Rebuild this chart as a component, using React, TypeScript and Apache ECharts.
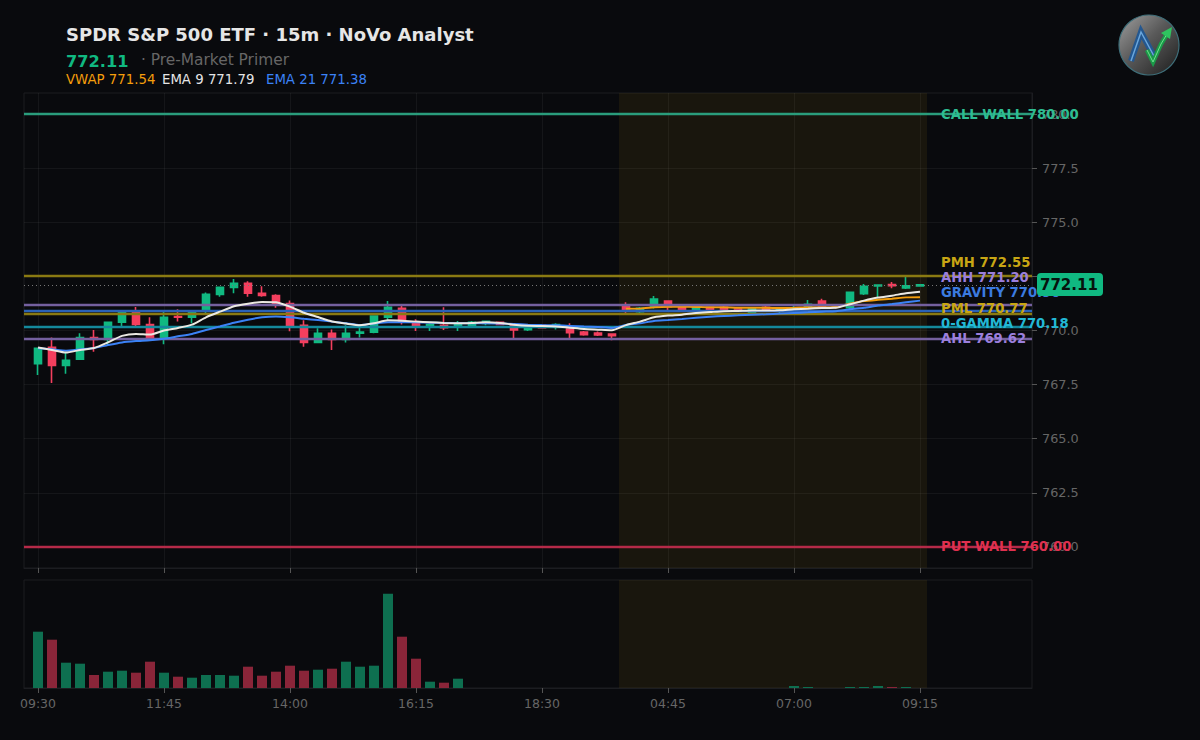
import React, { useEffect, useRef } from "react";
import * as echarts from "echarts";

// first and last slots are empty padding on the time axis
const times = [
  "", "09:30", "09:45", "10:00", "10:15", "10:30", "10:45", "11:00", "11:15", "11:30",
  "11:45", "12:00", "12:15", "12:30", "12:45", "13:00", "13:15", "13:30", "13:45",
  "14:00", "14:15", "14:30", "14:45", "15:00", "15:15", "15:30", "15:45", "16:00",
  "16:15", "16:30", "16:45", "17:00", "17:15", "17:30", "17:45", "18:00", "18:15",
  "18:30", "18:45", "19:00", "19:15", "19:30", "19:45", "04:00", "04:15", "04:30",
  "04:45", "05:00", "05:15", "05:30", "05:45", "06:00", "06:15", "06:30", "06:45",
  "07:00", "07:15", "07:30", "07:45", "08:00", "08:15", "08:30", "08:45", "09:00",
  "09:15", "", "", "", "", "", "", "", "",
];

// open, close, low, high
const candles = [
  [768.47, 769.18, 767.94, 769.18], [769.22, 768.38, 767.58, 769.68], [768.38, 768.62, 768.0, 768.98],
  [768.67, 769.68, 768.67, 769.87], [769.68, 769.59, 769.02, 770.02], [769.59, 770.38, 769.33, 770.42],
  [770.38, 770.84, 770.19, 770.89], [770.84, 770.28, 770.19, 771.09], [770.28, 769.59, 769.59, 770.61],
  [769.64, 770.61, 769.36, 770.89], [770.65, 770.61, 770.42, 770.98], [770.61, 770.89, 770.33, 770.89],
  [770.89, 771.67, 770.79, 771.76], [771.67, 771.99, 771.56, 771.99], [771.99, 772.18, 771.72, 772.38],
  [772.18, 771.72, 771.56, 772.27], [771.72, 771.62, 771.56, 772.04], [771.62, 771.25, 771.05, 771.67],
  [771.25, 770.24, 769.96, 771.39], [770.24, 769.45, 769.25, 770.47], [769.45, 769.87, 769.41, 770.1],
  [769.87, 769.59, 769.1, 770.05], [769.59, 769.87, 769.45, 770.24], [769.87, 769.93, 769.68, 770.15],
  [769.92, 770.67, 769.87, 770.67], [770.61, 771.07, 770.47, 771.36], [771.02, 770.42, 770.28, 771.21],
  [770.33, 770.15, 769.98, 770.52], [770.24, 770.28, 769.98, 770.33], [770.24, 770.13, 770.02, 771.07],
  [770.25, 770.3, 769.98, 770.44], [770.22, 770.38, 770.18, 770.44], [770.33, 770.42, 770.24, 770.45],
  [770.38, 770.28, 770.25, 770.38], [770.24, 770.02, 769.59, 770.33], [770.04, 770.21, 769.98, 770.28],
  [770.24, 770.13, 770.1, 770.28], [770.18, 770.28, 770.05, 770.33], [770.15, 769.9, 769.59, 770.33],
  [769.93, 769.81, 769.76, 769.98], [769.88, 769.79, 769.75, 769.95], [769.84, 769.76, 769.55, 769.87],
  [771.18, 770.95, 770.72, 771.3], [770.87, 771.02, 770.75, 771.09], [771.1, 771.45, 771.02, 771.59],
  [771.36, 771.1, 770.9, 771.36], [771.09, 770.95, 770.93, 771.09], [770.93, 771.05, 770.75, 771.05],
  [771.07, 770.9, 770.85, 771.1], [771.07, 770.96, 770.93, 771.18], [770.99, 770.93, 770.87, 771.02],
  [770.82, 771.05, 770.78, 771.05], [771.07, 770.93, 770.9, 771.13], [770.9, 770.98, 770.79, 770.98],
  [770.99, 771.05, 770.79, 771.19], [771.05, 771.21, 770.99, 771.41], [771.36, 771.1, 770.99, 771.47],
  [771.15, 771.09, 771.02, 771.18], [771.05, 771.76, 770.96, 771.76], [771.7, 772.04, 771.64, 772.15],
  [772.06, 772.1, 771.49, 772.1], [772.12, 772.07, 771.95, 772.24], [771.96, 772.06, 771.92, 772.56],
  [772.06, 772.11, 772.06, 772.15],
];

const ema9 = [
  769.21, 769.1, 768.98, 769.1, 769.19, 769.45, 769.75, 769.84, 769.81, 770.0, 770.12, 770.27, 770.61,
  770.87, 771.12, 771.24, 771.32, 771.3, 771.1, 770.82, 770.62, 770.42, 770.32, 770.24, 770.33, 770.47,
  770.45, 770.41, 770.38, 770.35, 770.33, 770.35, 770.38, 770.35, 770.27, 770.22, 770.21, 770.19, 770.13,
  770.07, 770.04, 770.01, 770.25, 770.41, 770.61, 770.69, 770.73, 770.81, 770.85, 770.89, 770.9, 770.92,
  770.92, 770.93, 770.98, 771.01, 771.04, 771.05, 771.21, 771.38, 771.52, 771.61, 771.72, 771.79,
];

const ema21 = [
  769.18, 769.13, 769.07, 769.13, 769.19, 769.33, 769.45, 769.51, 769.55, 769.62, 769.73, 769.84, 770.02,
  770.19, 770.36, 770.5, 770.61, 770.65, 770.61, 770.54, 770.48, 770.41, 770.33, 770.25, 770.32, 770.38,
  770.38, 770.38, 770.36, 770.35, 770.33, 770.33, 770.33, 770.32, 770.3, 770.27, 770.25, 770.24, 770.21,
  770.18, 770.16, 770.12, 770.25, 770.33, 770.44, 770.48, 770.53, 770.59, 770.64, 770.67, 770.7, 770.73,
  770.75, 770.78, 770.81, 770.84, 770.87, 770.89, 770.98, 771.05, 771.15, 771.22, 771.3, 771.38,
];

// pre-market session only, starts at 04:00
const vwapStart = 42;
const vwap = [
  771.01, 771.01, 771.07, 771.1, 771.1, 771.09, 771.07, 771.07, 771.05, 771.05, 771.05, 771.04,
  771.05, 771.07, 771.07, 771.1, 771.24, 771.36, 771.42, 771.47, 771.53, 771.54,
];

const volumes = [
  563, 483, 253, 243, 130, 163, 173, 153, 263, 153, 113, 103, 130, 130, 123, 213,
  123, 163, 223, 173, 183, 193, 263, 213, 223, 943, 513, 293, 63, 53, 93,
  0, 0, 0, 0, 0, 0, 0, 0, 0, 0, 0,
  0, 0, 0, 0, 0, 0, 0, 0, 0, 0, 0, 0, 20, 10, 0, 0, 10, 10, 20, 10, 10, 0,
];

const levelNames = ["CALL WALL", "PMH", "AHH", "GRAVITY", "PML", "0-GAMMA", "AHL", "PUT WALL"];
const levelValues = [780.0, 772.55, 771.2, 770.9, 770.77, 770.18, 769.62, 760.0];
const levelLabels = ["780.00", "772.55", "771.20", "770.90", "770.77", "770.18", "769.62", "760.00"];
const levelLineColors = ["#2a9d7c", "#8a7a12", "#74609f", "#2a62b8", "#8a7a12", "#14899c", "#74609f", "#b52a48"];
const levelTextColors = ["#2ebd92", "#c8a614", "#9b7fdc", "#3b7be0", "#c8a614", "#22b8d6", "#9b7fdc", "#e0304f"];
// labels are pushed apart so they stay readable
const levelLabelY = [114, 262, 277, 292, 308, 323, 338, 546];

const priceTicks = [760, 762.5, 765, 767.5, 770, 772.5, 775, 777.5, 780];
// the 772.5 label sits under the last-price badge
const priceLabels = [760, 762.5, 765, 767.5, 770, 775, 777.5, 780];
const lastPrice = 772.11;
const sessionSpan = [[43, 64, 0]];

const UP = "#10b981";
const DOWN = "#f43f5e";
const FONT = "DejaVu Sans";
const BG = "#090a0d";

const showTick = (index: number) => index > 0 && index < 65 && (index - 1) % 9 === 0;

const renderSession = (params: any, api: any) => {
  const band = api.size([1, 0])[0];
  const x0 = api.coord([api.value(0), 0])[0] - band / 2;
  const x1 = api.coord([api.value(1), 0])[0] + band / 2;
  return {
    type: "rect",
    shape: { x: x0, y: params.coordSys.y, width: x1 - x0, height: params.coordSys.height },
    style: { fill: "rgba(234,179,8,0.07)" },
  };
};

const text = (x: number, y: number, value: string, fill: string, fontSize: number, fontWeight = "normal", z = 100) => ({
  type: "text",
  x,
  y,
  z,
  style: { text: value, fill, fontSize, fontWeight, fontFamily: FONT, textVerticalAlign: "middle" },
});

export default function App() {
  const chartRef = useRef<HTMLDivElement>(null);

  useEffect(() => {
    if (!chartRef.current) return;
    const chart = echarts.init(chartRef.current, undefined, { renderer: "svg" });

    const xBase = {
      type: "category",
      data: times,
      boundaryGap: false,
      axisLine: { lineStyle: { color: "#1c1d21" } },
      axisTick: { show: true, length: 5, interval: showTick, lineStyle: { color: "#555" } },
    };

    const levelLines = levelValues.map((v, i) => ({
      yAxis: v,
      lineStyle: { color: levelLineColors[i], width: 2.4, type: "solid", opacity: 1 },
    }));

    const option: any = {
      animation: false,
      backgroundColor: BG,
      grid: [
        { left: 24, top: 93, width: 1008, height: 475, show: true, borderColor: "#1c1d21", backgroundColor: "transparent" },
        { left: 24, top: 580, width: 1008, height: 108, show: true, borderColor: "#1c1d21", backgroundColor: "transparent" },
      ],
      xAxis: [
        {
          ...xBase,
          gridIndex: 0,
          axisLabel: { show: false },
          splitLine: { show: true, interval: showTick, lineStyle: { color: "rgba(255,255,255,0.05)" } },
        },
        {
          ...xBase,
          gridIndex: 1,
          axisLabel: { show: true, interval: showTick, color: "#666", fontSize: 12.5, fontFamily: FONT, margin: 9 },
          splitLine: { show: false },
        },
      ],
      yAxis: [
        {
          type: "value",
          gridIndex: 0,
          position: "right",
          min: 759.03,
          max: 780.97,
          axisLine: { show: true, lineStyle: { color: "#1c1d21" } },
          axisTick: { show: true, length: 5, customValues: priceTicks, lineStyle: { color: "#555" } },
          axisLabel: {
            color: "#666",
            fontSize: 12.8,
            fontFamily: FONT,
            margin: 10,
            customValues: priceLabels,
            formatter: (v: number) => v.toFixed(1),
          },
          splitLine: { show: true, lineStyle: { color: "rgba(255,255,255,0.05)" } },
        },
        { type: "value", gridIndex: 1, min: 0, max: 1080, show: false, splitLine: { show: false } },
      ],
      series: [
        {
          type: "custom",
          xAxisIndex: 0,
          yAxisIndex: 0,
          z: 1,
          silent: true,
          data: sessionSpan,
          encode: { x: [0, 1], y: 2 },
          clip: false,
          renderItem: renderSession,
        },
        {
          type: "custom",
          xAxisIndex: 1,
          yAxisIndex: 1,
          z: 1,
          silent: true,
          data: sessionSpan,
          encode: { x: [0, 1], y: 2 },
          clip: false,
          renderItem: renderSession,
        },
        {
          type: "line",
          xAxisIndex: 0,
          yAxisIndex: 0,
          z: 2,
          data: [],
          silent: true,
          markLine: {
            silent: true,
            symbol: "none",
            animation: false,
            label: { show: false },
            data: [
              ...levelLines,
              { yAxis: lastPrice, lineStyle: { color: "#777", width: 1, type: [1, 3], opacity: 1 } },
            ],
          },
        },
        {
          type: "candlestick",
          xAxisIndex: 0,
          yAxisIndex: 0,
          z: 3,
          barWidth: 7.5,
          itemStyle: { color: UP, color0: DOWN, borderColor: UP, borderColor0: DOWN, borderWidth: 1.6 },
          encode: { x: 0, y: [1, 2, 3, 4] },
          data: candles.map((c, i) => [i + 1, c[0], c[1], c[2], c[3]]),
        },
        {
          type: "line",
          name: "VWAP",
          xAxisIndex: 0,
          yAxisIndex: 0,
          z: 4,
          showSymbol: false,
          smooth: 0.2,
          lineStyle: { color: "#f59e0b", width: 2 },
          data: vwap.map((v, i) => [vwapStart + i + 1, v]),
        },
        {
          type: "line",
          name: "EMA 21",
          xAxisIndex: 0,
          yAxisIndex: 0,
          z: 5,
          showSymbol: false,
          smooth: 0.2,
          lineStyle: { color: "#3b82f6", width: 2 },
          data: ema21.map((v, i) => [i + 1, v]),
        },
        {
          type: "line",
          name: "EMA 9",
          xAxisIndex: 0,
          yAxisIndex: 0,
          z: 6,
          showSymbol: false,
          smooth: 0.2,
          lineStyle: { color: "#ebe9e2", width: 2 },
          data: ema9.map((v, i) => [i + 1, v]),
        },
        {
          type: "bar",
          xAxisIndex: 1,
          yAxisIndex: 1,
          z: 3,
          barWidth: 10,
          data: volumes.map((v, i) => ({
            value: [i + 1, v],
            itemStyle: { color: candles[i][1] >= candles[i][0] ? "#0e6f50" : "#8a2539" },
          })),
        },
      ],
      graphic: {
        elements: [
          text(66, 34.5, "SPDR S&P 500 ETF · 15m · NoVo Analyst", "#e6e6e6", 18, "bold"),
          text(66, 61, "772.11", UP, 16.2, "bold"),
          text(141, 60, "· Pre-Market Primer", "#666", 15.4),
          text(66, 79, "VWAP 771.54", "#f59e0b", 13.3),
          text(162, 79, "EMA 9 771.79", "#e5e5e5", 13.3),
          text(266, 79, "EMA 21 771.38", "#3b82f6", 13.3),
          ...levelNames.map((name, i) =>
            text(941, levelLabelY[i], `${name} ${levelLabels[i]}`, levelTextColors[i], 13.2, "bold")
          ),
          {
            type: "rect",
            z: 110,
            shape: { x: 1037, y: 273, width: 66, height: 23, r: 4 },
            style: { fill: UP },
          },
          text(1040, 284.5, "772.11", "#06120e", 15, "bold", 111),
          // logo badge
          {
            type: "circle",
            z: 100,
            shape: { cx: 1149, cy: 45, r: 30 },
            style: {
              fill: new echarts.graphic.LinearGradient(0, 0, 1, 1, [
                { offset: 0, color: "#a0a0a0" },
                { offset: 0.45, color: "#5a5a5a" },
                { offset: 1, color: "#1c1c1c" },
              ]),
              stroke: "#3f6f7a",
              lineWidth: 1.2,
            },
          },
          {
            type: "polyline",
            z: 101,
            shape: { points: [[1131, 61], [1141, 32], [1155, 58]] },
            style: { stroke: "#24578f", lineWidth: 6, fill: "none" },
          },
          {
            type: "polyline",
            z: 102,
            shape: { points: [[1131, 61], [1141, 32], [1155, 58]] },
            style: { stroke: "#6aa6dc", lineWidth: 1.5, fill: "none" },
          },
          {
            type: "polyline",
            z: 103,
            shape: { points: [[1147, 50], [1153, 62], [1161, 44], [1167, 34]] },
            style: { stroke: "#1a9a48", lineWidth: 4.5, fill: "none" },
          },
          {
            type: "polyline",
            z: 104,
            shape: { points: [[1147, 50], [1153, 62], [1161, 44], [1167, 34]] },
            style: { stroke: "#6fe08e", lineWidth: 1, fill: "none" },
          },
          {
            type: "polygon",
            z: 105,
            shape: { points: [[1172, 27], [1170, 39], [1161, 33]] },
            style: { fill: "#2fc45f" },
          },
        ],
      },
    };

    chart.setOption(option);

    return () => {
      chart.dispose();
    };
  }, []);

  return <div ref={chartRef} style={{ position: "fixed", left: 0, top: 0, width: 1200, height: 740, background: BG }} />;
}
